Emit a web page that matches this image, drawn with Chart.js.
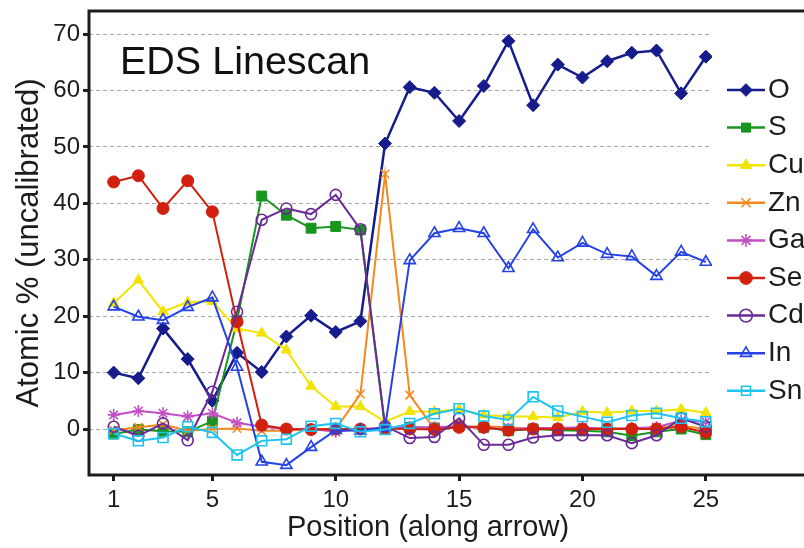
<!DOCTYPE html>
<html><head><meta charset="utf-8">
<script src="https://cdn.jsdelivr.net/npm/chart.js@4/dist/chart.umd.min.js"></script>
<style>html,body{margin:0;padding:0;background:#fff;overflow:hidden}canvas{display:block}</style>
</head><body>
<canvas id="c" width="804" height="548" style="width:804px;height:548px"></canvas>
<script>
// ---- data ----
const positions = [1,2,3,4,5,6,7,8,9,10,11,12,13,14,15,16,17,18,19,20,21,22,23,24,25];
const xTickValues = [1,5,10,15,20,25];
const yTickValues = [0,10,20,30,40,50,60,70];
const elements = ['O','S','Cu','Zn','Ga','Se','Cd','In','Sn'];
const O  = [10.0, 9.0, 17.8, 12.4, 5.0, 13.5, 10.1, 16.4, 20.1, 17.2, 19.1, 50.6, 60.6, 59.6, 54.6, 60.8, 68.8, 57.4, 64.6, 62.3, 65.2, 66.7, 67.1, 59.5, 66.0];
const S  = [-0.9, -0.1, -0.4, -0.5, 1.4, 19.2, 41.3, 37.9, 35.6, 35.9, 35.3, 0.2, 0.3, 0.2, 0.5, 0.3, -0.3, 0.0, -0.2, -0.3, -0.5, -1.2, -0.5, 0.0, -1.0];
const Cu = [22.3, 26.4, 20.8, 22.5, 22.6, 17.8, 17.0, 14.0, 7.6, 4.0, 4.0, 1.3, 3.1, 3.1, 3.5, 2.5, 2.2, 2.2, 2.0, 3.1, 2.9, 3.2, 3.2, 3.5, 2.9];
const Zn = [-0.2, 0.3, 0.8, -0.3, 0.0, 0.1, -0.3, -0.3, 0.0, 0.0, 6.2, 45.2, 6.0, 0.0, 0.3, 0.5, 0.3, 0.0, 0.0, 0.0, 0.2, 0.0, 0.3, 0.6, 0.0];
const Ga = [2.5, 3.2, 2.8, 2.2, 2.8, 1.1, 0.4, 0.0, 0.0, -0.5, 0.0, 0.2, 0.3, 0.3, 0.5, 0.2, 0.0, 0.2, 0.2, 0.3, 0.0, 0.2, 0.3, 1.5, 1.3];
const Se = [43.8, 44.9, 39.1, 44.0, 38.5, 19.0, 0.7, 0.0, -0.1, 0.0, 0.0, 0.1, 0.0, -0.1, 0.3, 0.3, -0.2, 0.0, 0.0, 0.0, 0.0, 0.0, 0.0, 0.4, -0.6];
const Cd = [0.4, -1.2, 1.0, -2.0, 6.6, 20.8, 37.1, 39.1, 38.1, 41.5, 35.4, 0.5, -1.6, -1.4, 1.9, -2.8, -2.8, -1.5, -1.1, -1.1, -1.1, -2.5, -1.1, 1.9, 0.4];
const In = [21.7, 19.9, 19.3, 21.6, 23.3, 11.0, -5.8, -6.4, -3.2, -0.2, -0.3, 0.3, 29.9, 34.7, 35.6, 34.7, 28.5, 35.4, 30.4, 33.0, 31.0, 30.6, 27.1, 31.4, 29.6];
const Sn = [-0.8, -2.1, -1.5, 0.4, -0.6, -4.6, -2.1, -1.8, 0.5, 1.0, -0.5, -0.1, 1.0, 2.7, 3.6, 2.3, 1.6, 5.7, 3.2, 2.2, 1.2, 2.4, 2.8, 1.9, 1.3];
const seriesValues = [O, S, Cu, Zn, Ga, Se, Cd, In, Sn];
const chartTitle = 'EDS Linescan';
const xTitle = 'Position (along arrow)';
const yTitle = 'Atomic % (uncalibrated)';

// ---- styles ----
const FONT = "'Liberation Sans', Arial, Helvetica, sans-serif";
const INK = '#1c1c1c';
const seriesStyles = [
  {color:'#161c8c', point:'rectRot',  r:6.5, hollow:false},
  {color:'#17961f', point:'rect',     r:7,   hollow:false},
  {color:'#f2e300', point:'triangle', r:6,   hollow:false},
  {color:'#f5891e', point:'crossRot', r:6,   hollow:true},
  {color:'#c24fc6', point:'star',     r:6,   hollow:true},
  {color:'#d2200e', point:'circle',   r:6,   hollow:false},
  {color:'#6b2a95', point:'circle',   r:5.5, hollow:true},
  {color:'#2542e6', point:'triangle', r:6.5, hollow:true},
  {color:'#1ec3f0', point:'rect',     r:7,   hollow:true}
];
const LEG = {font:28, pad:9.6, boxW:16, left:728.4, top:66.4, lineHalf:19};

const datasets = elements.map((name, i) => {
  const st = seriesStyles[i];
  return {
    label: name,
    data: positions.map((p, k) => ({x: p, y: seriesValues[i][k]})),
    borderColor: st.color,
    backgroundColor: st.color,
    borderWidth: i === 0 ? 2.5 : 2,
    pointStyle: st.point,
    pointRadius: st.r,
    pointBorderColor: st.color,
    pointBackgroundColor: st.hollow ? 'rgba(255,255,255,0)' : st.color,
    pointBorderWidth: st.hollow ? 1.6 : 1,
    tension: 0,
    order: -i
  };
});

const customPlugin = {
  id: 'custom',
  beforeLayout(chart) {
    const lg = chart.legend;
    if (lg && !lg.__patched) {
      const origFit = lg.fit;
      lg.fit = function() { origFit.call(this); this.width = 804 - 712; };
      lg.__patched = true;
    }
  },
  afterLayout(chart) {
    const lg = chart.legend;
    const dx = LEG.left - lg.left, dy = LEG.top - lg.top;
    lg.left += dx; lg.right += dx; lg.top += dy; lg.bottom += dy;
    const s = chart.scales.x;
    if (!s.__patched) {
      const orig = s.drawTitle;
      s.drawTitle = function() {
        const l = this.left, r = this.right;
        this.left += 27.5; this.right += 27.5;
        orig.call(this);
        this.left = l; this.right = r;
      };
      s.__patched = true;
    }
  },
  beforeDraw(chart) {
    const ctx = chart.ctx, lg = chart.legend;
    ctx.save();
    chart.data.datasets.forEach((ds, i) => {
      const cx = lg.left + LEG.pad + LEG.boxW / 2;
      const cy = lg.top + LEG.pad + i * (LEG.font + LEG.pad) + LEG.font / 2;
      ctx.strokeStyle = ds.borderColor;
      ctx.lineWidth = 2.5;
      ctx.beginPath();
      ctx.moveTo(cx - LEG.lineHalf, cy);
      ctx.lineTo(cx + LEG.lineHalf, cy);
      ctx.stroke();
    });
    ctx.restore();
  },
  afterDraw(chart) {
    const ctx = chart.ctx, a = chart.chartArea;
    ctx.save();
    ctx.strokeStyle = INK;
    ctx.lineWidth = 3;
    ctx.beginPath();
    ctx.moveTo(chart.width + 10, a.top);
    ctx.lineTo(a.left, a.top);
    ctx.lineTo(a.left, a.bottom);
    ctx.lineTo(chart.width + 10, a.bottom);
    ctx.stroke();
    ctx.fillStyle = '#111';
    ctx.font = '39.5px ' + FONT;
    ctx.textBaseline = 'alphabetic';
    ctx.textAlign = 'left';
    ctx.fillText(chartTitle, 120, 74);
    ctx.restore();
  }
};

new Chart(document.getElementById('c'), {
  type: 'line',
  data: { datasets },
  plugins: [customPlugin],
  options: {
    responsive: false,
    animation: false,
    devicePixelRatio: 1,
    events: [],
    layout: { padding: { top: 11, left: 0, right: 0, bottom: 0 } },
    plugins: {
      legend: {
        position: 'right',
        align: 'start',
        labels: {
          usePointStyle: true,
          boxWidth: LEG.boxW,
          boxHeight: 9,
          padding: LEG.pad,
          color: INK,
          font: { family: FONT, size: LEG.font },
          sort: (a, b) => a.datasetIndex - b.datasetIndex
        }
      },
      tooltip: { enabled: false }
    },
    scales: {
      x: {
        type: 'linear',
        min: 0,
        max: 25.25,
        afterBuildTicks: s => { s.ticks = xTickValues.map(v => ({ value: v })); },
        afterFit: s => { s.height = 73; s.paddingLeft = 0; s.paddingRight = 0; },
        grid: { drawOnChartArea: false, drawTicks: true, tickLength: 6, tickWidth: 3, tickColor: INK },
        border: { display: false },
        ticks: { color: INK, font: { family: FONT, size: 24 }, padding: 5, maxRotation: 0, autoSkip: false },
        title: { display: true, text: xTitle, color: INK, font: { family: FONT, size: 29 }, padding: { top: 0, bottom: 3 } }
      },
      y: {
        type: 'linear',
        min: -8.15,
        max: 74.1,
        afterBuildTicks: s => { s.ticks = yTickValues.map(v => ({ value: v })); },
        afterFit: s => { s.width = 89; s.paddingTop = 0; s.paddingBottom = 0; },
        grid: { color: '#a9a9a9', lineWidth: 1, drawTicks: true, tickLength: 6, tickWidth: 3, tickColor: INK, tickBorderDash: [] },
        border: { display: false, dash: [4, 3] },
        ticks: { color: INK, font: { family: FONT, size: 24 }, padding: 3 },
        title: { display: true, text: yTitle, color: INK, font: { family: FONT, size: 31 }, padding: { top: 11, bottom: 0 } }
      }
    }
  }
});
</script>
</body></html>
